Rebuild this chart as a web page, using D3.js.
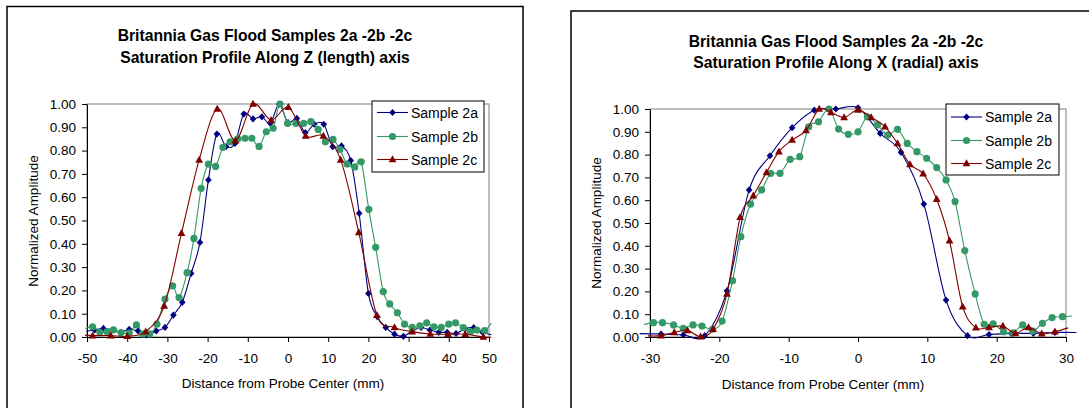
<!DOCTYPE html>
<html>
<head>
<meta charset="utf-8">
<script src="https://cdn.jsdelivr.net/npm/d3@7"></script>
<style>
  html, body { margin: 0; padding: 0; background: #fff; }
  svg { display: block; font-family: Arial, "Liberation Sans", sans-serif; }
</style>
</head>
<body>
<script>
// ---- Z (length) profile data ----
const zPos2a = [-50.2, -48.1, -45.9, -43.7, -41.6, -39.5, -37.3, -35.1, -32.8, -30.6, -28.5, -26.3, -24.1, -21.9, -19.8, -17.7, -15.4, -13.2, -11.0, -8.7, -6.5, -4.4, -2.2, 0.0, 2.2, 4.3, 6.5, 8.9, 11.1, 13.3, 15.6, 17.7, 20.0, 22.2, 24.3, 26.5, 28.7, 30.9, 33.1, 35.3, 37.5, 39.6, 41.8, 44.0, 46.2, 48.4, 50.6];
const zAmp2a = [0.025, 0.03, 0.037, 0.03, 0.02, 0.033, 0.026, 0.01, 0.026, 0.041, 0.094, 0.149, 0.273, 0.406, 0.674, 0.871, 0.817, 0.831, 0.957, 0.936, 0.945, 0.917, 0.999, 0.92, 0.938, 0.877, 0.913, 0.913, 0.817, 0.82, 0.757, 0.531, 0.187, 0.087, 0.041, 0.012, 0.003, 0.026, 0.041, 0.03, 0.02, 0.02, 0.015, 0.035, 0.04, 0.02, 0.01];

const zPos2b = [-50.4, -48.6, -46.8, -45.0, -43.4, -41.5, -39.5, -37.7, -36.1, -34.4, -32.6, -30.6, -28.7, -27.1, -25.1, -23.4, -21.6, -19.8, -18.0, -16.2, -14.4, -12.5, -10.7, -9.0, -7.2, -5.4, -3.7, -2.0, -0.1, 2.0, 3.9, 5.7, 7.5, 9.3, 11.2, 12.9, 14.7, 16.6, 18.2, 20.1, 21.8, 23.7, 25.3, 27.2, 29.0, 30.9, 32.8, 34.5, 36.3, 38.1, 40.0, 41.7, 43.6, 45.4, 47.0, 48.9, 50.6];
const zAmp2b = [0.035, 0.044, 0.020, 0.023, 0.031, 0.019, 0.017, 0.052, 0.013, 0.013, 0.055, 0.163, 0.219, 0.169, 0.276, 0.423, 0.638, 0.742, 0.732, 0.814, 0.838, 0.85, 0.853, 0.853, 0.818, 0.881, 0.896, 1.0, 0.917, 0.917, 0.917, 0.924, 0.891, 0.838, 0.848, 0.805, 0.742, 0.73, 0.752, 0.548, 0.385, 0.195, 0.142, 0.104, 0.055, 0.041, 0.048, 0.061, 0.044, 0.041, 0.055, 0.061, 0.04, 0.023, 0.03, 0.027, 0.06];

const zPos2c = [-50.5, -48.6, -44.1, -40.0, -35.4, -30.8, -26.5, -22.1, -17.6, -13.1, -8.7, -4.2, 0.1, 4.4, 8.8, 13.1, 17.6, 22.1, 26.5, 30.9, 35.4, 39.8, 44.1, 48.6, 50.6];
const zAmp2c = [0.008, 0.006, 0.006, 0.003, 0.023, 0.133, 0.445, 0.76, 0.979, 0.843, 1.0, 0.931, 0.986, 0.863, 0.863, 0.76, 0.449, 0.094, 0.041, 0.023, 0.013, 0.012, 0.012, 0.0, 0.0];

// ---- X (radial) profile data ----
const xPos2a = [-31.5, -28.4, -25.2, -22.1, -18.9, -15.7, -12.7, -9.5, -6.3, -3.2, 0.0, 3.2, 6.2, 9.5, 12.7, 15.8, 18.9, 22.1, 25.3, 28.4, 31.5];
const xAmp2a = [0.015, 0.013, 0.009, 0.006, 0.202, 0.645, 0.795, 0.918, 0.995, 1.0, 1.005, 0.893, 0.81, 0.583, 0.162, 0.006, 0.011, 0.016, 0.016, 0.02, 0.02];

const xPos2b = [-30.9, -29.5, -28.2, -26.6, -25.2, -23.8, -22.5, -21.0, -19.6, -18.1, -16.9, -15.5, -13.9, -12.6, -11.25, -9.8, -8.4, -7.1, -5.7, -4.2, -2.8, -1.4, 0.0, 1.35, 2.8, 4.3, 5.7, 7.1, 8.5, 9.9, 11.35, 12.7, 14.0, 15.4, 16.9, 18.2, 19.5, 21.0, 22.4, 23.75, 25.2, 26.6, 28.0, 29.5, 30.9];
const xAmp2b = [0.055, 0.063, 0.063, 0.053, 0.038, 0.053, 0.048, 0.034, 0.07, 0.247, 0.44, 0.583, 0.645, 0.718, 0.718, 0.779, 0.791, 0.922, 0.944, 1.0, 0.912, 0.889, 0.9, 0.966, 0.93, 0.886, 0.911, 0.849, 0.813, 0.784, 0.743, 0.689, 0.594, 0.379, 0.189, 0.056, 0.058, 0.023, 0.018, 0.053, 0.026, 0.06, 0.085, 0.089, 0.092];

const xPos2c = [-30.3, -28.4, -26.5, -24.6, -22.7, -20.9, -18.9, -17.0, -15.1, -13.2, -11.4, -9.5, -7.5, -5.6, -3.9, -2.0, 0.0, 1.9, 3.9, 5.7, 7.5, 9.4, 11.35, 13.2, 15.1, 17.0, 18.9, 20.9, 22.7, 24.6, 26.5, 28.4, 30.3];
const xAmp2c = [0.005, 0.006, 0.02, 0.029, 0.001, 0.034, 0.189, 0.525, 0.62, 0.722, 0.813, 0.864, 0.906, 1.0, 0.985, 0.963, 0.996, 0.963, 0.922, 0.849, 0.757, 0.716, 0.604, 0.422, 0.133, 0.041, 0.042, 0.048, 0.016, 0.042, 0.014, 0.023, 0.04];

// ---- labels and ticks ----
const seriesNames = ["Sample 2a", "Sample 2b", "Sample 2c"];
const titleLine1 = "Britannia Gas Flood Samples 2a -2b -2c";
const titleZ = "Saturation Profile Along Z (length) axis";
const titleX = "Saturation Profile Along X (radial) axis";
const yAxisTitle = "Normalized Amplitude";
const xAxisTitle = "Distance from Probe Center (mm)";
const yTicks = [0, 0.1, 0.2, 0.3, 0.4, 0.5, 0.6, 0.7, 0.8, 0.9, 1.0];
const zTicks = [-50, -40, -30, -20, -10, 0, 10, 20, 30, 40, 50];
const xTicks = [-30, -20, -10, 0, 10, 20, 30];

const colors = ["#000080", "#339966", "#800000"];
const shapes = ["diamond", "circle", "triangle"];

const svg = d3.select("body").append("svg").attr("width", 1089).attr("height", 408);

function drawMarker(g, shape, cx, cy, color) {
  if (shape === "diamond") {
    g.append("path").attr("d", `M${cx},${cy - 3.6}L${cx + 3.3},${cy}L${cx},${cy + 3.6}L${cx - 3.3},${cy}Z`).attr("fill", color);
  } else if (shape === "circle") {
    g.append("circle").attr("cx", cx).attr("cy", cy).attr("r", 3.6).attr("fill", color);
  } else {
    g.append("path").attr("d", `M${cx},${cy - 4.2}L${cx + 3.9},${cy + 2.8}L${cx - 3.9},${cy + 2.8}Z`).attr("fill", color);
  }
}

function drawChart(cfg) {
  const g = svg.append("g");
  // chart frame
  g.append("rect").attr("x", cfg.frame[0]).attr("y", cfg.frame[1])
    .attr("width", cfg.frame[2]).attr("height", cfg.frame[3])
    .attr("fill", "#fff").attr("stroke", "#000").attr("stroke-width", 1.5);

  const x = d3.scaleLinear().domain(cfg.domain).range([cfg.plot[0], cfg.plot[2]]);
  const y = d3.scaleLinear().domain([0, 1]).range([cfg.plot[3], cfg.plot[1]]);

  // plot area border
  g.append("rect").attr("x", cfg.plot[0]).attr("y", cfg.plot[1])
    .attr("width", cfg.plot[2] - cfg.plot[0]).attr("height", cfg.plot[3] - cfg.plot[1])
    .attr("fill", "none").attr("stroke", "#808080").attr("stroke-width", 1);

  const ya = g.append("g").attr("transform", `translate(${cfg.plot[0]},0)`)
    .call(d3.axisLeft(y).tickValues(yTicks).tickFormat(d => d.toFixed(2)).tickSize(5).tickSizeOuter(0).tickPadding(6));
  const xa = g.append("g").attr("transform", `translate(0,${cfg.plot[3]})`)
    .call(d3.axisBottom(x).tickValues(cfg.ticks).tickFormat(d => String(d)).tickSize(5).tickSizeOuter(0).tickPadding(11.5));
  [ya, xa].forEach(a => {
    a.selectAll("text").attr("font-size", 13.5).attr("fill", "#000").attr("font-family", "Arial, 'Liberation Sans', sans-serif");
    a.selectAll("line").attr("stroke", "#000");
    a.select(".domain").attr("stroke", "#000");
  });

  // series lines and markers
  const line = d3.line().x(d => x(d[0])).y(d => y(d[1])).curve(d3.curveCardinal.tension(0));
  cfg.series.forEach((s, i) => {
    const pts = s.pos.map((p, k) => [p, s.amp[k]]);
    g.append("path").attr("d", line(pts)).attr("fill", "none")
      .attr("stroke", colors[i]).attr("stroke-width", 1.1);
    const mg = g.append("g");
    pts.filter(d => d[0] >= cfg.domain[0] && d[0] <= cfg.domain[1])
      .forEach(d => drawMarker(mg, shapes[i], x(d[0]), y(d[1]), colors[i]));
  });

  // titles
  const t = g.append("text").attr("text-anchor", "middle").attr("font-weight", "bold").attr("font-size", 15.7);
  t.append("tspan").attr("x", cfg.titleX).attr("y", cfg.titleY[0]).text(titleLine1);
  t.append("tspan").attr("x", cfg.titleX).attr("y", cfg.titleY[1]).text(cfg.title2);

  g.append("text").attr("transform", `translate(${cfg.yTitle[0]},${cfg.yTitle[1]}) rotate(-90)`)
    .attr("text-anchor", "middle").attr("font-size", 13.5).text(yAxisTitle);
  g.append("text").attr("x", cfg.xTitle[0]).attr("y", cfg.xTitle[1])
    .attr("text-anchor", "middle").attr("font-size", 13.5).text(xAxisTitle);

  // legend
  const L = cfg.legend;
  g.append("rect").attr("x", L.x).attr("y", L.y).attr("width", L.w).attr("height", L.h)
    .attr("fill", "#fff").attr("stroke", "#000").attr("stroke-width", 1);
  seriesNames.forEach((name, i) => {
    const ry = L.y + L.rows[i];
    g.append("line").attr("x1", L.x + 5).attr("x2", L.x + 36).attr("y1", ry).attr("y2", ry)
      .attr("stroke", colors[i]).attr("stroke-width", 1.1);
    drawMarker(g, shapes[i], L.x + 20.5, ry, colors[i]);
    g.append("text").attr("x", L.x + 39).attr("y", ry + 5).attr("font-size", 14).text(name);
  });
}

drawChart({
  frame: [7, 6.5, 516, 420],
  plot: [87, 104, 489, 337],
  domain: [-50, 50],
  ticks: zTicks,
  series: [{pos: zPos2a, amp: zAmp2a}, {pos: zPos2b, amp: zAmp2b}, {pos: zPos2c, amp: zAmp2c}],
  title2: titleZ,
  titleX: 265, titleY: [40.5, 62.5],
  yTitle: [38, 221],
  xTitle: [283, 388],
  legend: {x: 372, y: 101, w: 112, h: 71, rows: [11.5, 35.5, 58.5]}
});

drawChart({
  frame: [571, 11, 530, 420],
  plot: [650, 109, 1066, 337],
  domain: [-30, 30],
  ticks: xTicks,
  series: [{pos: xPos2a, amp: xAmp2a}, {pos: xPos2b, amp: xAmp2b}, {pos: xPos2c, amp: xAmp2c}],
  title2: titleX,
  titleX: 836, titleY: [46.5, 67.5],
  yTitle: [601, 223],
  xTitle: [823, 389],
  legend: {x: 946, y: 104, w: 113, h: 71, rows: [13, 36.5, 59.5]}
});
</script>
</body>
</html>
